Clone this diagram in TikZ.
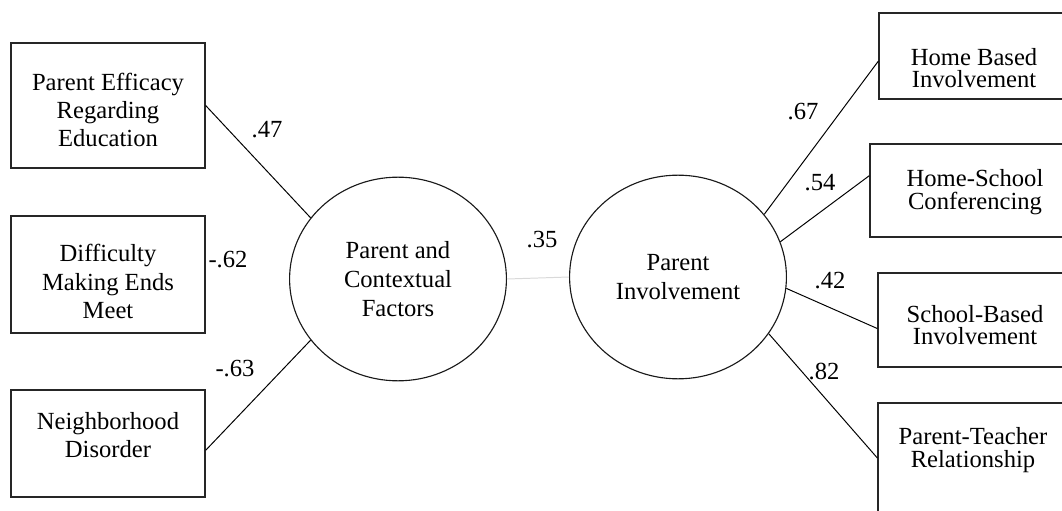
\documentclass[tikz,border=0pt]{standalone}
\usepackage{fontspec}
\setmainfont{Liberation Serif}
\usepackage{tikz}
\usetikzlibrary{positioning, shapes.geometric}
\tikzset{obs/.style = {rectangle,draw=black!85,line width=0.9pt,inner sep=0pt,minimum width=4.85cm},
         txt/.style = {inner sep=0pt,align=center,font=\fontsize{17.5}{20}\selectfont},
         txtr/.style = {txt,font=\fontsize{17.5}{16}\selectfont},
         lat/.style = {ellipse,draw=black!90,line width=0.8pt,inner sep=0pt,align=center,
                       font=\fontsize{17.5}{20.5}\selectfont,minimum width=5.42cm,minimum height=5.09cm},
         path/.style = {draw=black,line width=0.7pt},
         coef/.style = {inner sep=0pt,font=\fontsize{17.5}{20}\selectfont}}

\begin{document}
\begin{tikzpicture}[x=0.025cm,y=-0.025cm]
    \useasboundingbox (0,0) rectangle (1062,511);

    \node [obs,minimum height=3.125cm] (pef) at (108,105.5) {};
    \node [obs,minimum height=2.925cm] (dme) at (108,274.5) {};
    \node [obs,minimum height=2.675cm] (nd)  at (108,443.5) {};
    \node [txt] (pef-t) at (108,110)   {Parent Efficacy\\Regarding\\Education};
    \node [txt] (dme-t) at (108,281.5) {Difficulty\\Making Ends\\Meet};
    \node [txt] (nd-t)  at (108,435)   {Neighborhood\\Disorder};

    \node [lat] (pcf) at (398,279) {Parent and\\Contextual\\Factors};
    \node [lat] (pi)  at (678,277) {Parent\\Involvement};

    \node [obs,minimum height=2.15cm]  (hbi) at (976,56) {};
    \node [obs,minimum height=2.325cm,minimum width=5.25cm] (hsc) at (975,190.5) {};
    \node [obs,minimum height=2.35cm]  (sbi) at (975,320) {};
    \node [obs,minimum height=3cm,minimum width=4.75cm] (ptr) at (973,463) {};
    \node [txtr] (hbi-t) at (974,68)  {Home Based\\Involvement};
    \node [txtr] (hsc-t) at (975,192) {Home-School\\Conferencing};
    \node [txtr] (sbi-t) at (975,325) {School-Based\\Involvement};
    \node [txtr] (ptr-t) at (973,450) {Parent-Teacher\\Relationship};

    \draw [path] (pef.east) -- (pcf.145);
    \draw [path] (nd.-4) -- (pcf.215);
    \draw [path,draw=black!15] (pcf.east) -- (pi.west);
    \draw [path] (pi.36) -- (hbi.183.5);
    \draw [path] (pi.19.5) -- (hsc.172.7);
    \draw [path] (pi.-6) -- (sbi.185.9);
    \draw [path] (pi.-32) -- (ptr.177);

    \node [coef] (c1) at (267,130) {.47};
    \node [coef] (c2) at (228,260) {-.62};
    \node [coef] (c3) at (235,369) {-.63};
    \node [coef] (c4) at (542,240) {.35};
    \node [coef] (c5) at (803,112) {.67};
    \node [coef] (c6) at (820,183) {.54};
    \node [coef] (c7) at (830,281) {.42};
    \node [coef] (c8) at (824,371) {.82};
\end{tikzpicture}
\end{document}
